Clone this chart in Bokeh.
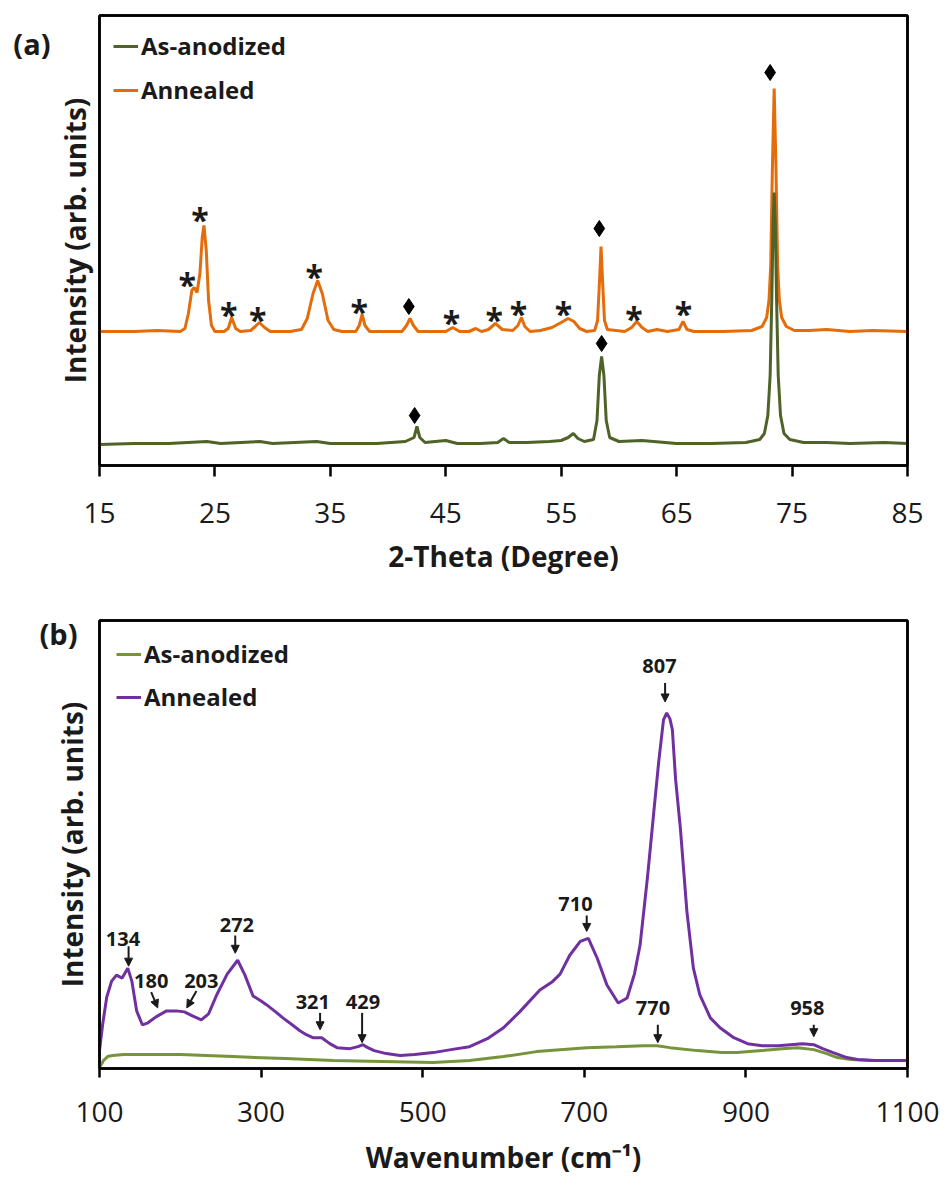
from bokeh.plotting import figure
from bokeh.models import (ColumnDataSource, Legend, LegendItem, Arrow, LinearAxis,
                          NormalHead, FixedTicker, Range1d)
from bokeh.layouts import column
from bokeh.embed import file_html
from bokeh.resources import INLINE
from bokeh.core.properties import value

FONT = "Open Sans"

# ---------------- (a) XRD data ----------------
xrd_theta_annealed = [15, 18, 20, 22.0, 22.4, 22.7, 23.0, 23.2, 23.45, 23.7, 23.9, 24.05, 24.25, 24.45,
                      24.7, 25.0, 25.8, 26.15, 26.45, 26.8, 27.2, 28.1, 28.5, 28.85, 29.3, 29.8, 31.5,
                      32.5, 33.0, 33.5, 33.9, 34.3, 34.8, 35.3, 36.0, 37.2, 37.5, 37.75, 38.0, 38.4,
                      41.2, 41.6, 41.9, 42.2, 42.6, 45.0, 45.6, 46.2, 47.0, 47.6, 48.1, 48.7, 49.3,
                      49.9, 50.8, 51.25, 51.55, 51.85, 52.3, 53.2, 54.2, 55.0, 55.6, 56.1, 56.6, 57.2,
                      57.9, 58.15, 58.3, 58.45, 58.6, 58.75, 59.0, 60.5, 61.1, 61.55, 62.0, 62.5, 63.3,
                      64.2, 65.2, 65.55, 65.9, 66.5, 69.0, 71.5, 72.4, 72.8, 73.0, 73.15, 73.3, 73.45,
                      73.6, 73.75, 73.9, 74.1, 74.5, 75.2, 76.5, 78.0, 80.0, 82.0, 85.0]
xrd_int_annealed = [134, 134, 135, 134, 137, 152, 175, 178, 173, 192, 228, 240, 215, 165,
                    140, 134, 134, 137, 148, 137, 134, 135, 139, 143, 138, 134, 134,
                    136, 147, 172, 185, 172, 145, 136, 134, 134, 140, 151, 140, 134,
                    134, 140, 147, 140, 134, 134, 138, 134, 134, 137, 134, 136, 142,
                    136, 135, 140, 148, 139, 134, 135, 138, 143, 147, 144, 137, 134,
                    135, 145, 180, 219, 180, 145, 136, 134, 138, 144, 138, 134, 136,
                    134, 136, 144, 136, 134, 134, 135, 139, 148, 165, 200, 300, 377,
                    300, 200, 165, 148, 139, 135, 135, 136, 134, 135, 134]

xrd_theta_asanod = [15, 18, 21, 24.3, 25.5, 28.9, 30.0, 33.8, 35.0, 39.0, 41.5, 42.25, 42.5, 42.75,
                    43.2, 45.0, 46.0, 48.0, 49.5, 50.0, 50.5, 52.0, 54.0, 55.0, 55.6, 56.05, 56.45,
                    57.0, 57.8, 58.1, 58.3, 58.5, 58.7, 58.9, 59.2, 60.0, 62.0, 65.0, 68.0, 71.0,
                    72.2, 72.6, 72.9, 73.1, 73.25, 73.35, 73.45, 73.55, 73.65, 73.8, 74.0, 74.3,
                    74.8, 76.0, 78.0, 80.0, 83.0, 85.0]
xrd_int_asanod = [21, 22, 22, 24, 22, 24, 22, 24, 22, 22, 24, 28, 39, 28,
                  23, 25, 22, 22, 23, 27, 23, 23, 24, 25, 28, 32, 27,
                  24, 26, 45, 90, 109, 90, 45, 28, 24, 25, 22, 22, 23,
                  26, 32, 50, 90, 170, 240, 273, 240, 170, 90, 50, 32,
                  26, 23, 23, 22, 23, 22]

star_theta = [22.6, 23.7, 26.2, 28.7, 33.6, 37.5, 45.5, 49.2, 51.3, 55.2, 61.3, 65.6]
star_int = [187, 252, 157, 152, 195, 160, 149, 152, 158, 158, 153, 158]
diamond_theta = [41.8, 58.3, 73.1, 42.3, 58.5]
diamond_int = [159, 237, 393, 50, 122]

xrd_ticks = [15, 25, 35, 45, 55, 65, 75, 85]

# ---------------- (b) Raman data ----------------
raman_wn_annealed = [100, 104, 109, 115, 121, 128, 135, 140, 146, 153, 160, 170, 183, 195, 205, 215,
                     226, 235, 245, 258, 271, 280, 290, 300, 307, 318, 327, 340, 348, 356, 364,
                     375, 385, 394, 410, 420, 426, 432, 440, 455, 472, 490, 513, 535, 558, 580,
                     600, 620, 645, 660, 670, 682, 695, 705, 716, 728, 742, 753, 762, 769, 778,
                     786, 792, 798, 802, 806, 809, 813, 819, 827, 835, 843, 856, 868, 885, 902,
                     920, 940, 955, 970, 984, 995, 1008, 1025, 1038, 1060, 1080, 1100]
raman_int_annealed = [18, 45, 72, 88, 94, 91, 101, 88, 58, 44, 46, 52, 58, 58, 57, 53,
                      49, 55, 74, 95, 109, 94, 73, 68, 64, 57, 51, 43, 38, 34, 31,
                      31, 25, 21, 20, 22, 24, 21, 18, 15, 13, 14, 16, 19, 22, 30,
                      41, 57, 79, 87, 95, 114, 128, 131, 111, 84, 66, 71, 95, 124, 191,
                      258, 308, 351, 358, 352, 341, 291, 241, 158, 101, 74, 51, 41, 31, 25,
                      23, 23, 24, 25, 24, 20, 16, 11, 9, 8, 8, 8]

raman_wn_asanod = [100, 105, 110, 116, 130, 150, 200, 265, 330, 389, 450, 513, 558, 600, 641,
                   703, 740, 773, 790, 806, 840, 870, 889, 920, 945, 964, 984, 1000, 1013,
                   1030, 1054, 1100]
raman_int_asanod = [1, 8, 12, 13, 14, 14, 14, 12, 10, 8, 7, 6, 8, 12, 17,
                    21, 22, 23, 23, 21, 18, 16, 16, 18, 20, 21, 19, 15, 11,
                    9, 8, 8]

peak_labels = ["134", "180", "203", "272", "321", "429", "710", "770", "807", "958"]
peak_label_x = [129, 164, 226, 270, 364, 426, 689, 785, 793, 976]
peak_label_y = [130, 88, 88, 144, 67, 67, 166, 61, 405, 61]
arrow_x0 = [136, 164, 220, 268, 373, 425, 703, 791, 800, 984]
arrow_y0 = [123, 77, 78, 134, 56, 56, 154, 44, 388, 44]
arrow_x1 = [136, 172, 208, 268, 373, 425, 703, 791, 800, 984]
arrow_y1 = [103, 61, 61, 116, 39, 26, 138, 26, 369, 32]

raman_ticks = [100, 300, 500, 700, 900, 1100]

# panel tags: text and the intensity level they sit at
tag_a, tag_a_level = "(a)", 422
tag_b, tag_b_level = "(b)", 438

C_ORANGE = "#E46C0A"
C_GREEN_XRD = "#4F6228"
C_GREEN_RAMAN = "#77933C"
C_PURPLE = "#7030A0"
C_TEXT = "#1a1a1a"


def frame_axis():
    ax = LinearAxis(ticker=FixedTicker(ticks=[]))
    ax.axis_line_width = 2.5
    ax.axis_line_color = "black"
    ax.major_tick_line_color = None
    ax.minor_tick_line_color = None
    ax.major_label_text_font_size = "0px"
    return ax


def tag_style(ax, text, level, standoff):
    ax.ticker = FixedTicker(ticks=[level])
    ax.major_label_overrides = {level: text}
    ax.major_tick_line_color = None
    ax.minor_tick_line_color = None
    ax.major_tick_out = 0
    ax.major_tick_in = 0
    ax.major_label_standoff = standoff
    ax.major_label_orientation = "horizontal"
    ax.major_label_text_font = FONT
    ax.major_label_text_font_size = "29px"
    ax.major_label_text_font_style = "bold"
    ax.major_label_text_color = C_TEXT


def style(p, ticks, tick_out, xlabel, s1, s2):
    p.xgrid.visible = False
    p.ygrid.visible = False
    p.outline_line_color = "black"
    p.outline_line_width = 2.5
    p.background_fill_color = "white"
    p.border_fill_color = "white"
    p.xaxis.ticker = FixedTicker(ticks=ticks)
    p.xaxis.minor_tick_line_color = None
    p.xaxis.major_tick_in = 0
    p.xaxis.major_tick_out = tick_out
    p.xaxis.major_tick_line_width = 2.5
    p.xaxis.axis_line_width = 2.5
    p.xaxis.major_label_text_font = FONT
    p.xaxis.major_label_text_font_size = "28px"
    p.xaxis.major_label_text_color = C_TEXT
    p.xaxis.major_label_standoff = s1
    p.xaxis.axis_label = xlabel
    p.xaxis.axis_label_text_font = FONT
    p.xaxis.axis_label_text_font_size = "28px"
    p.xaxis.axis_label_text_font_style = "bold"
    p.xaxis.axis_label_text_color = C_TEXT
    p.xaxis.axis_label_standoff = s2
    p.yaxis.ticker = FixedTicker(ticks=[])
    p.yaxis.minor_tick_line_color = None
    p.yaxis.major_tick_line_color = None
    p.yaxis.axis_line_width = 2.5
    p.yaxis.axis_label = "Intensity (arb. units)"
    p.yaxis.axis_label_text_font = FONT
    p.yaxis.axis_label_text_font_size = "28px"
    p.yaxis.axis_label_text_font_style = "bold"
    p.yaxis.axis_label_text_color = C_TEXT
    p.yaxis.axis_label_standoff = 6
    p.add_layout(frame_axis(), "above")
    p.add_layout(frame_axis(), "right")


def legend(p, items, margin, spacing):
    lg = Legend(items=items, location="top_left")
    lg.glyph_width = 25
    lg.glyph_height = 30
    lg.label_height = 30
    lg.spacing = spacing
    lg.padding = 3
    lg.margin = margin
    lg.label_standoff = 3
    lg.border_line_color = None
    lg.background_fill_alpha = 0
    lg.label_text_font = FONT
    lg.label_text_font_size = "24px"
    lg.label_text_font_style = "bold"
    lg.label_text_color = C_TEXT
    p.add_layout(lg)


# ---------------- figure (a) ----------------
p1 = figure(width=944, height=590, x_range=Range1d(15, 85), y_range=Range1d(0, 450),
            output_backend="svg", toolbar_location=None, title=None,
            min_border_left=99, min_border_right=36, min_border_top=15, min_border_bottom=125)
style(p1, xrd_ticks, 11, "2-Theta (Degree)", 26, 11)
tag_ax = LinearAxis(axis_line_color=None)
tag_style(tag_ax, tag_a, tag_a_level, 2)
p1.add_layout(tag_ax, "left")

r_ann = p1.line(xrd_theta_annealed, xrd_int_annealed, line_color=C_ORANGE, line_width=3)
r_as = p1.line(xrd_theta_asanod, xrd_int_asanod, line_color=C_GREEN_XRD, line_width=3)
legend(p1, [LegendItem(label="As-anodized", renderers=[r_as]),
            LegendItem(label="Annealed", renderers=[r_ann])], 14, 11)

p1.text(x=star_theta, y=star_int, text=["*"] * len(star_theta),
        text_font=value(FONT), text_font_size="32px", text_font_style="bold",
        text_align="center", text_baseline="middle", text_color=C_TEXT, y_offset=6)
p1.scatter(x=diamond_theta, y=diamond_int, marker="diamond", size=16,
           fill_color="black", line_color="black")

# ---------------- figure (b) ----------------
p2 = figure(width=944, height=588, x_range=Range1d(100, 1100), y_range=Range1d(0, 451),
            output_backend="svg", toolbar_location=None, title=None,
            min_border_left=99, min_border_right=37, min_border_top=30, min_border_bottom=108)
style(p2, raman_ticks, 9, "Wavenumber (cm\u207b\u00b9)", 24, 13)
# the "(b)" tag is a tick label of the left axis, pulled back next to the frame
tag_style(p2.yaxis[0], tag_b, tag_b_level, 22)
p2.yaxis.axis_label_standoff = -55

r_as2 = p2.line(raman_wn_asanod, raman_int_asanod, line_color=C_GREEN_RAMAN, line_width=3)
r_ann2 = p2.line(raman_wn_annealed, raman_int_annealed, line_color=C_PURPLE, line_width=3)
legend(p2, [LegendItem(label="As-anodized", renderers=[r_as2]),
            LegendItem(label="Annealed", renderers=[r_ann2])], 17, 10)

p2.text(x=peak_label_x, y=peak_label_y, text=peak_labels,
        text_font=value(FONT), text_font_size="20px", text_font_style="bold",
        text_align="center", text_baseline="middle", text_color=C_TEXT)
arrow_src = ColumnDataSource(dict(x0=arrow_x0, y0=arrow_y0, x1=arrow_x1, y1=arrow_y1))
p2.add_layout(Arrow(x_start="x0", y_start="y0", x_end="x1", y_end="y1", source=arrow_src,
                    line_width=2, line_color=C_TEXT,
                    end=NormalHead(size=8, fill_color=C_TEXT, line_color=C_TEXT)))

layout = column(p1, p2)
open("out.html", "w").write(file_html(layout, INLINE))
